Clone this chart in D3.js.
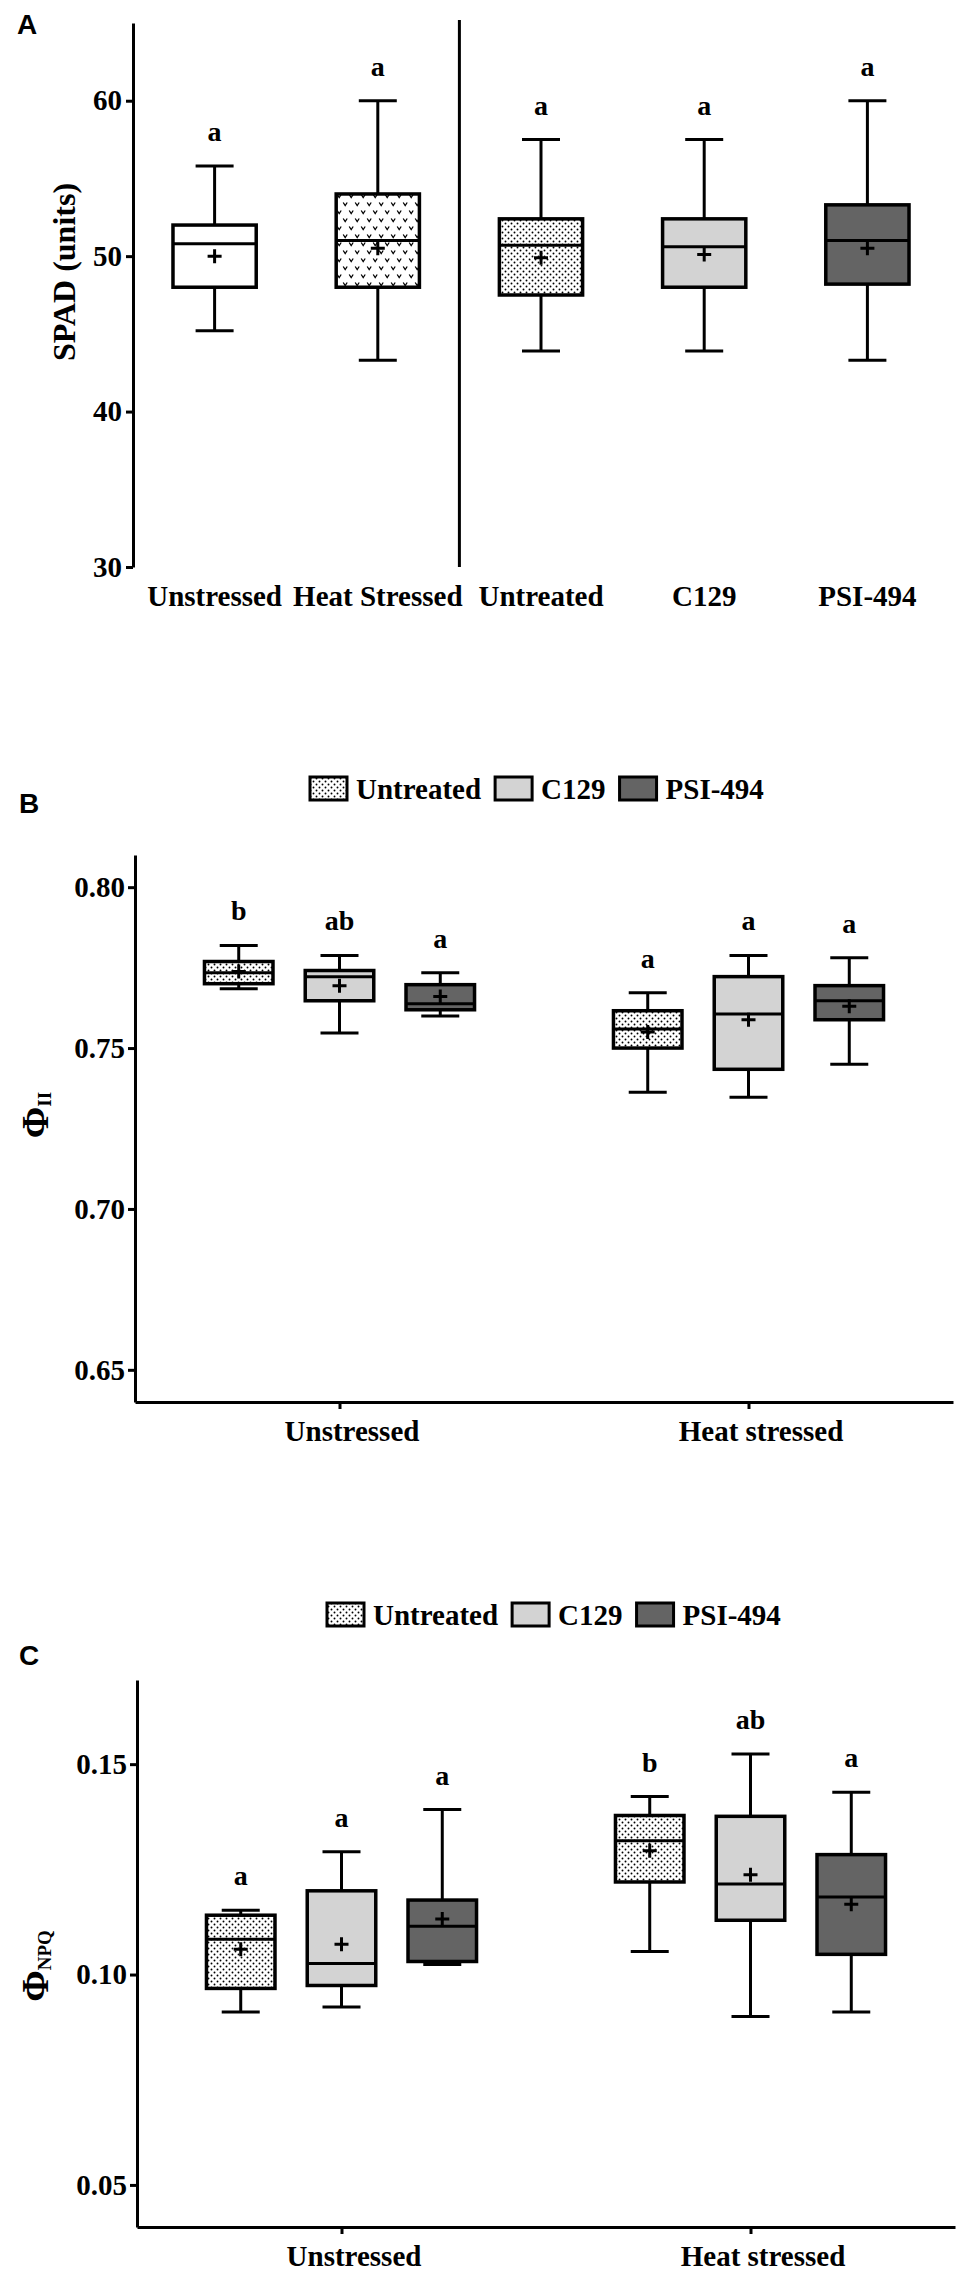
<!DOCTYPE html>
<html>
<head>
<meta charset="utf-8">
<script src="https://cdn.jsdelivr.net/npm/d3@7"></script>
<style>
  body { margin: 0; background: #fff; }
  svg text { font-family: "Liberation Serif", "Times New Roman", serif; font-weight: bold; fill: #000; }
  .panel-tag { font-family: "Liberation Sans", Arial, sans-serif !important; }
</style>
</head>
<body>
<script>
// ---- Panel A: SPAD ----
const catsA = ['Unstressed', 'Heat Stressed', 'Untreated', 'C129', 'PSI-494'];
const minA = [45.2, 43.3, 43.9, 43.9, 43.3];
const q1A = [48.0, 48.0, 47.5, 48.0, 48.2];
const medA = [50.8, 51.0, 50.7, 50.6, 51.0];
const q3A = [52.0, 54.0, 52.4, 52.4, 53.3];
const maxA = [55.8, 60.0, 57.5, 57.5, 60.0];
const meanA = [50.0, 50.5, 49.9, 50.1, 50.5];
const lettersA = ['a', 'a', 'a', 'a', 'a'];
const ticksA = [30, 40, 50, 60];

// ---- Panels B and C: groups x treatments (order: Unstressed U/C/P, Heat stressed U/C/P) ----
const groups = ['Unstressed', 'Heat stressed'];
const treatments = ['Untreated', 'C129', 'PSI-494'];

const minB = [0.7684, 0.7547, 0.7600, 0.7363, 0.7347, 0.7450];
const q1B = [0.7700, 0.7647, 0.7619, 0.7500, 0.7434, 0.7588];
const medB = [0.7734, 0.7722, 0.7638, 0.7559, 0.7606, 0.7647];
const q3B = [0.7769, 0.7741, 0.7697, 0.7616, 0.7722, 0.7694];
const maxB = [0.7819, 0.7788, 0.7734, 0.7672, 0.7788, 0.7781];
const meanB = [0.7738, 0.7694, 0.7660, 0.7550, 0.7588, 0.7630];
const lettersB = ['b', 'ab', 'a', 'a', 'a', 'a'];
const ticksB = [0.65, 0.70, 0.75, 0.80];

const minC = [0.0911, 0.0923, 0.1024, 0.1055, 0.0900, 0.0911];
const q1C = [0.0967, 0.0974, 0.1031, 0.1220, 0.1129, 0.1048];
const medC = [0.1084, 0.1026, 0.1115, 0.1318, 0.1215, 0.1184];
const q3C = [0.1141, 0.1199, 0.1177, 0.1378, 0.1376, 0.1285];
const maxC = [0.1153, 0.1292, 0.1392, 0.1423, 0.1524, 0.1433];
const meanC = [0.1060, 0.1072, 0.1132, 0.1294, 0.1237, 0.1167];
const lettersC = ['a', 'a', 'a', 'b', 'ab', 'a'];
const ticksC = [0.05, 0.10, 0.15];

const width = 975, height = 2283;
const svg = d3.select('body').append('svg')
    .attr('width', width)
    .attr('height', height);

// --- padrões de preenchimento ---
const defs = svg.append('defs');
const dots = defs.append('pattern')
    .attr('id', 'dots')
    .attr('patternUnits', 'userSpaceOnUse')
    .attr('width', 6).attr('height', 6);
dots.append('rect').attr('width', 6).attr('height', 6).attr('fill', '#fff');
dots.append('circle').attr('cx', 1.5).attr('cy', 1.5).attr('r', 0.95).attr('fill', '#000');
dots.append('circle').attr('cx', 4.5).attr('cy', 4.5).attr('r', 0.95).attr('fill', '#000');

const vee = defs.append('pattern')
    .attr('id', 'vee')
    .attr('patternUnits', 'userSpaceOnUse')
    .attr('width', 12).attr('height', 16);
vee.append('rect').attr('width', 12).attr('height', 16).attr('fill', '#fff');
vee.append('path')
    .attr('d', 'M1.2,2.5 L3.2,5.5 L5.2,2.5 M7.2,10.5 L9.2,13.5 L11.2,10.5')
    .attr('fill', 'none').attr('stroke', '#000').attr('stroke-width', 1.3);

const fillA = ['#ffffff', 'url(#vee)', 'url(#dots)', '#d3d3d3', '#646464'];
const fillT = d3.scaleOrdinal().domain(treatments).range(['url(#dots)', '#d3d3d3', '#646464']);

function styleAxis(sel) {
    sel.select('.domain').attr('stroke', '#000').attr('stroke-width', 3);
    sel.selectAll('.tick line').attr('stroke', '#000').attr('stroke-width', 3);
    sel.selectAll('.tick text').style('font-size', '29px');
}

function drawBox(g, cx, bw, y, d, fill) {
    const cap = 38;
    const b = g.append('g');
    b.append('line').attr('x1', cx).attr('x2', cx).attr('y1', y(d.max)).attr('y2', y(d.q3))
        .attr('stroke', '#000').attr('stroke-width', 3);
    b.append('line').attr('x1', cx).attr('x2', cx).attr('y1', y(d.q1)).attr('y2', y(d.min))
        .attr('stroke', '#000').attr('stroke-width', 3);
    [d.max, d.min].forEach(v => {
        b.append('line').attr('x1', cx - cap / 2).attr('x2', cx + cap / 2)
            .attr('y1', y(v)).attr('y2', y(v))
            .attr('stroke', '#000').attr('stroke-width', 3);
    });
    b.append('rect')
        .attr('x', cx - bw / 2).attr('y', y(d.q3))
        .attr('width', bw).attr('height', y(d.q1) - y(d.q3))
        .attr('fill', fill).attr('stroke', '#000').attr('stroke-width', 3.5);
    b.append('line').attr('x1', cx - bw / 2).attr('x2', cx + bw / 2)
        .attr('y1', y(d.med)).attr('y2', y(d.med))
        .attr('stroke', '#000').attr('stroke-width', 3);
    // média (+)
    const my = y(d.mean);
    b.append('path')
        .attr('d', `M${cx - 7},${my} H${cx + 7} M${cx},${my - 7} V${my + 7}`)
        .attr('stroke', '#000').attr('stroke-width', 3).attr('fill', 'none');
    b.append('text')
        .attr('x', cx).attr('y', y(d.max) - 25)
        .attr('text-anchor', 'middle')
        .style('font-size', '28px')
        .text(d.letter);
}

// ================= Painel A =================
const yA = d3.scaleLinear().domain([30, 65]).range([567, 23]);
const xA = d3.scaleBand().domain(catsA).range([133, 949]).paddingInner(0.49).paddingOuter(0.245);

const gAy = svg.append('g').attr('transform', 'translate(133,0)')
    .call(d3.axisLeft(yA).tickValues(ticksA).tickSize(7).tickPadding(4).tickSizeOuter(0));
styleAxis(gAy);

const gAx = svg.append('g').attr('transform', 'translate(0,567)')
    .call(d3.axisBottom(xA).tickSize(0).tickPadding(18));
gAx.select('.domain').remove();
gAx.selectAll('.tick text').style('font-size', '29px');

// linha divisória entre stress e tratamentos
const divX = (xA('Heat Stressed') + xA.bandwidth() + xA('Untreated')) / 2;
svg.append('line')
    .attr('x1', divX).attr('x2', divX)
    .attr('y1', 20).attr('y2', yA(30))
    .attr('stroke', '#000').attr('stroke-width', 3);

catsA.forEach((c, i) => {
    drawBox(svg, xA(c) + xA.bandwidth() / 2, xA.bandwidth(), yA, {
        min: minA[i], q1: q1A[i], med: medA[i], q3: q3A[i], max: maxA[i], mean: meanA[i], letter: lettersA[i]
    }, fillA[i]);
});

svg.append('text')
    .attr('transform', 'translate(75,272) rotate(-90)')
    .attr('text-anchor', 'middle')
    .style('font-size', '32px')
    .text('SPAD (units)');

svg.append('text').attr('class', 'panel-tag')
    .attr('x', 17).attr('y', 34)
    .style('font-size', '28px')
    .text('A');

// ================= Painéis B e C =================
function groupedPanel(opt) {
    const x0 = d3.scalePoint().domain(groups).range([opt.x0, opt.x1]).padding(0.5);
    const step = x0.step();
    const x1 = d3.scaleBand().domain(treatments).range([-step * 0.409, step * 0.409]).padding(0.32);
    const y = d3.scaleLinear().domain(opt.domain).range([opt.bottom, opt.top]);

    const gy = svg.append('g').attr('transform', `translate(${opt.x0},0)`)
        .call(d3.axisLeft(y).tickValues(opt.ticks).tickFormat(d3.format('.2f'))
            .tickSize(7).tickPadding(3).tickSizeOuter(0));
    styleAxis(gy);

    const gx = svg.append('g').attr('transform', `translate(0,${opt.bottom})`)
        .call(d3.axisBottom(x0).tickSize(7).tickPadding(11).tickSizeOuter(0));
    styleAxis(gx);
    gx.selectAll('.tick text').attr('dx', 12);

    groups.forEach((gr, gi) => {
        treatments.forEach((t, ti) => {
            const k = gi * 3 + ti;
            const cx = x0(gr) + x1(t) + x1.bandwidth() / 2;
            drawBox(svg, cx, x1.bandwidth(), y, {
                min: opt.min[k], q1: opt.q1[k], med: opt.med[k], q3: opt.q3[k],
                max: opt.max[k], mean: opt.mean[k], letter: opt.letters[k]
            }, fillT(t));
        });
    });

    // legenda
    let lx = opt.legendX;
    const lg = svg.append('g');
    treatments.forEach(t => {
        lg.append('rect')
            .attr('x', lx).attr('y', opt.legendY - 22)
            .attr('width', 37).attr('height', 23)
            .attr('fill', fillT(t)).attr('stroke', '#000').attr('stroke-width', 3);
        const tx = lg.append('text')
            .attr('x', lx + 46).attr('y', opt.legendY)
            .style('font-size', '29px')
            .text(t);
        lx += 46 + tx.node().getComputedTextLength() + 14;
    });

    // título do eixo Y (Φ com subscrito)
    const yt = svg.append('text')
        .attr('transform', `translate(48,${opt.titleY}) rotate(-90)`)
        .attr('text-anchor', 'middle');
    yt.append('tspan').style('font-size', '38px').text('Φ');
    yt.append('tspan').style('font-size', '19px').attr('dy', 3).text(opt.sub);

    svg.append('text').attr('class', 'panel-tag')
        .attr('x', 19).attr('y', opt.tagY)
        .style('font-size', '28px')
        .text(opt.tag);
}

groupedPanel({
    x0: 135, x1: 953, top: 855, bottom: 1402, domain: [0.64, 0.81], ticks: ticksB,
    min: minB, q1: q1B, med: medB, q3: q3B, max: maxB, mean: meanB, letters: lettersB,
    legendX: 310, legendY: 799, sub: 'II', titleY: 1115, tag: 'B', tagY: 813
});

groupedPanel({
    x0: 137, x1: 955, top: 1680, bottom: 2227, domain: [0.04, 0.17], ticks: ticksC,
    min: minC, q1: q1C, med: medC, q3: q3C, max: maxC, mean: meanC, letters: lettersC,
    legendX: 327, legendY: 1625, sub: 'NPQ', titleY: 1966, tag: 'C', tagY: 1665
});
</script>
</body>
</html>
